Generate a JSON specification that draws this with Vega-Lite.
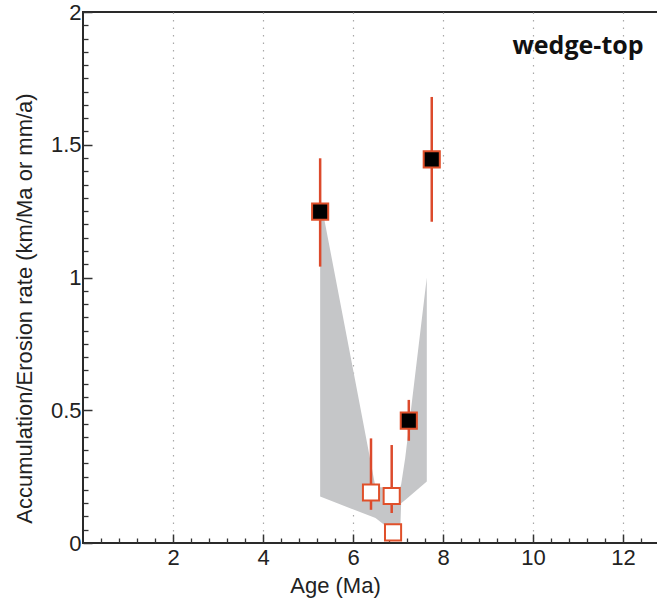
{
  "$schema": "https://vega.github.io/schema/vega-lite/v6.json",
  "width": 585,
  "height": 531,
  "autosize": {"type": "none"},
  "padding": {"left": 83, "top": 12, "right": 0, "bottom": 62},
  "background": "white",
  "config": {
    "view": {"stroke": "#2a2a2a", "strokeWidth": 2},
    "axis": {
      "labelFont": "Liberation Sans",
      "titleFont": "Liberation Sans",
      "labelFontSize": 22,
      "titleFontSize": 22,
      "titleFontWeight": "normal",
      "labelColor": "#222",
      "titleColor": "#222",
      "tickColor": "#333",
      "domain": false
    }
  },
  "datasets": {
    "band": [
      {"age": 5.27, "top": 1.3, "bottom": 0.175},
      {"age": 6.04, "top": 0.62, "bottom": 0.124},
      {"age": 6.5, "top": 0.21, "bottom": 0.094},
      {"age": 6.8, "top": 0.21, "bottom": 0.055},
      {"age": 7.05, "top": 0.21, "bottom": 0.05},
      {"age": 7.07, "top": 0.22, "bottom": 0.15},
      {"age": 7.16, "top": 0.32, "bottom": 0.162},
      {"age": 7.64, "top": 1.0, "bottom": 0.232}
    ],
    "rates": [
      {"age": 5.27, "rate": 1.248, "lo": 1.041, "hi": 1.449, "type": "filled"},
      {"age": 7.75, "rate": 1.445, "lo": 1.21, "hi": 1.68, "type": "filled"},
      {"age": 7.24, "rate": 0.461, "lo": 0.385, "hi": 0.539, "type": "filled"},
      {"age": 6.4, "rate": 0.19, "lo": 0.125, "hi": 0.394, "type": "open"},
      {"age": 6.86, "rate": 0.177, "lo": 0.113, "hi": 0.369, "type": "open"},
      {"age": 6.89, "rate": 0.04, "lo": null, "hi": null, "type": "open"}
    ],
    "label": [{"age": 11.0, "rate": 1.872, "text": "wedge-top"}]
  },
  "layer": [
    {
      "data": {"name": "band"},
      "mark": {"type": "area", "color": "#c5c6c8", "opacity": 1},
      "encoding": {
        "x": {
          "field": "age", "type": "quantitative",
          "scale": {"domain": [0, 13], "nice": false, "zero": false},
          "axis": {
            "orient": "bottom",
            "values": [2, 4, 6, 8, 10, 12],
            "grid": true, "gridDash": [1.5, 6], "gridColor": "#a8a8a8", "gridWidth": 1.2,
            "tickSize": -9, "tickWidth": 1.5, "labelPadding": 13,
            "title": "Age (Ma)", "titleX": 252, "titleY": 42, "titleBaseline": "middle", "titleAlign": "center", "titleAnchor": null
          }
        },
        "y": {
          "field": "top", "type": "quantitative",
          "scale": {"domain": [0, 2], "nice": false},
          "axis": {
            "orient": "left",
            "values": [0, 0.5, 1, 1.5, 2],
            "format": "~g",
            "grid": false,
            "tickSize": -9, "tickWidth": 1.5, "labelPadding": 11,
            "title": "Accumulation/Erosion rate (km/Ma or mm/a)",
            "titleX": -59, "titleY": 296, "titleBaseline": "middle", "titleAlign": "center", "titleAnchor": null, "titleAngle": -90
          }
        },
        "y2": {"field": "bottom"}
      }
    },
    {
      "data": {"name": "rates"},
      "transform": [{"filter": "datum.lo != null"}],
      "mark": {"type": "rule", "color": "#dc4a2c", "strokeWidth": 2.5},
      "encoding": {
        "x": {
          "field": "age", "type": "quantitative",
          "axis": {
            "orient": "bottom",
            "values": [0.4, 0.8, 1.2, 1.6, 2.4, 2.8, 3.2, 3.6, 4.4, 4.8, 5.2, 5.6, 6.4, 6.8, 7.2, 7.6, 8.4, 8.8, 9.2, 9.6, 10.4, 10.8, 11.2, 11.6, 12.4, 12.8],
            "labels": false, "grid": false, "tickSize": -5, "tickWidth": 1.3, "title": null
          }
        },
        "y": {
          "field": "lo", "type": "quantitative",
          "axis": {
            "orient": "left",
            "values": [0.05, 0.1, 0.15, 0.2, 0.25, 0.3, 0.35, 0.4, 0.45, 0.55, 0.6, 0.65, 0.7, 0.75, 0.8, 0.85, 0.9, 0.95, 1.05, 1.1, 1.15, 1.2, 1.25, 1.3, 1.35, 1.4, 1.45, 1.55, 1.6, 1.65, 1.7, 1.75, 1.8, 1.85, 1.9, 1.95],
            "labels": false, "grid": false, "tickSize": -5, "tickWidth": 1.3, "title": null
          }
        },
        "y2": {"field": "hi"}
      }
    },
    {
      "data": {"name": "rates"},
      "mark": {"type": "point", "shape": "square", "size": 260, "filled": true, "stroke": "#e0502a", "strokeWidth": 2, "opacity": 1},
      "encoding": {
        "x": {"field": "age", "type": "quantitative", "axis": null},
        "y": {"field": "rate", "type": "quantitative", "axis": null},
        "fill": {
          "field": "type", "type": "nominal",
          "scale": {"domain": ["filled", "open"], "range": ["#000000", "#ffffff"]},
          "legend": null
        }
      }
    },
    {
      "data": {"name": "label"},
      "mark": {"type": "text", "font": "Open Sans", "fontWeight": "bold", "fontSize": 25, "align": "center", "baseline": "middle", "color": "#111"},
      "encoding": {
        "x": {"field": "age", "type": "quantitative", "axis": null},
        "y": {"field": "rate", "type": "quantitative", "axis": null},
        "text": {"field": "text"}
      }
    }
  ],
  "resolve": {"axis": {"x": "independent", "y": "independent"}}
}
